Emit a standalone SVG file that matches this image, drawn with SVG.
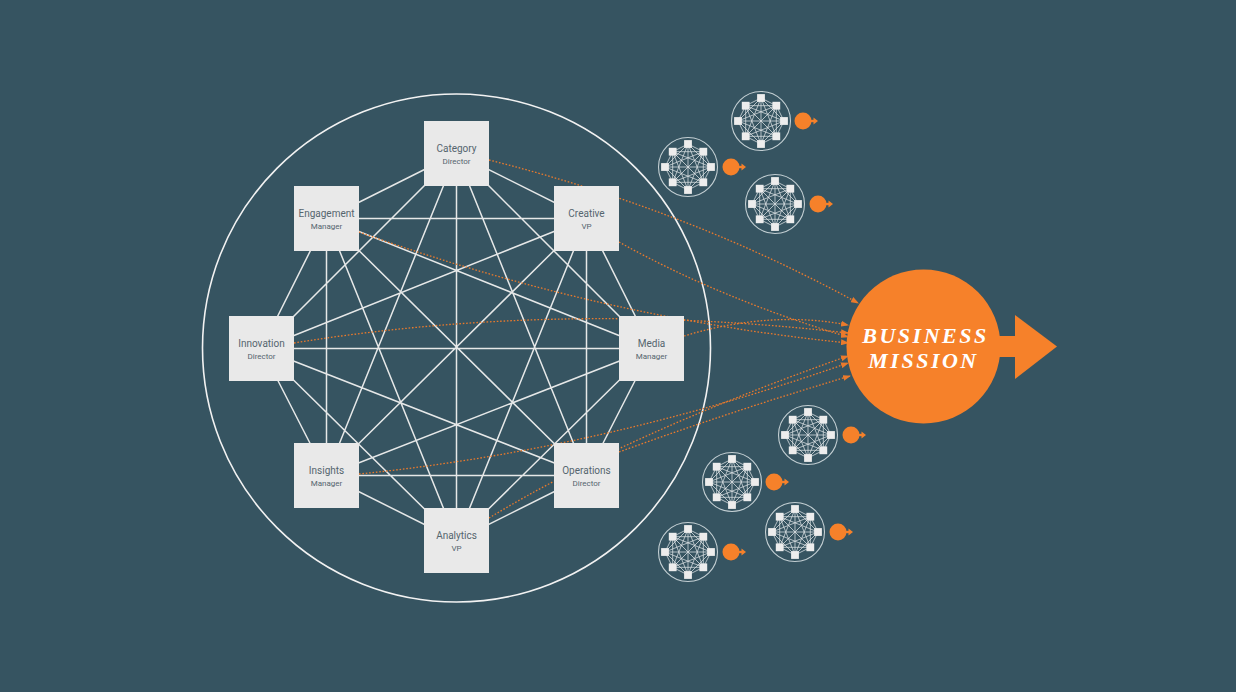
<svg xmlns="http://www.w3.org/2000/svg" xmlns:xlink="http://www.w3.org/1999/xlink" width="1236" height="692" viewBox="0 0 1236 692">
<style>
.bg{fill:#365461}
.ring{fill:none;stroke:#f2f2f2;stroke-width:1.6}
.edge{stroke:#e6e8e8;stroke-width:1.5;fill:none}
.box{fill:#e9e9e9}
.t1{font-family:Roboto,"Liberation Sans",sans-serif;font-size:10px;fill:#55656e;text-anchor:middle}
.t2{font-family:Roboto,"Liberation Sans",sans-serif;font-size:8px;fill:#55656e;text-anchor:middle}
.dot{fill:none;stroke:#ea7a2c;stroke-width:1.3;stroke-dasharray:1.6 1.8}
.org{fill:#f6812a}
.mt{font-family:"Liberation Serif","DejaVu Serif",serif;font-weight:bold;font-style:italic;font-size:22px;fill:#ffffff;text-anchor:middle;letter-spacing:2.5px}
.nring{fill:none;stroke:#c3cfd3;stroke-width:1.1}
.nline{fill:none;stroke:#dde3e5;stroke-width:0.75}
.nsq{fill:#ededed}
</style>
<defs>
<marker id="ah" markerWidth="8" markerHeight="6" refX="7" refY="3" orient="auto" markerUnits="userSpaceOnUse">
<path d="M0 0L8 3L0 6Z" fill="#ea7a2c"/>
</marker>
<g id="net">
<circle class="nring" r="29.5"/>
<path class="nline" d="M0-23L15.3-15.3M0-23L23 0M0-23L15.3 15.3M0-23L0 23M0-23L-15.3 15.3M0-23L-23 0M0-23L-15.3-15.3M15.3-15.3L23 0M15.3-15.3L15.3 15.3M15.3-15.3L0 23M15.3-15.3L-15.3 15.3M15.3-15.3L-23 0M15.3-15.3L-15.3-15.3M23 0L15.3 15.3M23 0L0 23M23 0L-15.3 15.3M23 0L-23 0M23 0L-15.3-15.3M15.3 15.3L0 23M15.3 15.3L-15.3 15.3M15.3 15.3L-23 0M15.3 15.3L-15.3-15.3M0 23L-15.3 15.3M0 23L-23 0M0 23L-15.3-15.3M-15.3 15.3L-23 0M-15.3 15.3L-15.3-15.3M-23 0L-15.3-15.3"/>
<rect class="nsq" x="-3.9" y="-26.9" width="7.8" height="7.8"/>
<rect class="nsq" x="11.4" y="-19.2" width="7.8" height="7.8"/>
<rect class="nsq" x="19.1" y="-3.9" width="7.8" height="7.8"/>
<rect class="nsq" x="11.4" y="11.4" width="7.8" height="7.8"/>
<rect class="nsq" x="-3.9" y="19.1" width="7.8" height="7.8"/>
<rect class="nsq" x="-19.2" y="11.4" width="7.8" height="7.8"/>
<rect class="nsq" x="-26.9" y="-3.9" width="7.8" height="7.8"/>
<rect class="nsq" x="-19.2" y="-19.2" width="7.8" height="7.8"/>
</g>
<g id="mini" class="org">
<circle r="8.5"/>
<rect x="6" y="-1.2" width="5" height="2.4"/>
<path d="M10.5-3.6L15 0L10.5 3.6Z"/>
</g>
</defs>
<rect class="bg" x="0" y="0" width="1236" height="692"/>
<circle class="ring" cx="456.5" cy="348" r="254"/>
<g id="connectors">
<g id="team-links">
<path class="edge" d="M456.5 153.5L586.5 218.5M456.5 153.5L651.5 348.5M456.5 153.5L586.5 475.5M456.5 153.5L456.5 540.5M456.5 153.5L326.5 475.5M456.5 153.5L261.5 348.5M456.5 153.5L326.5 218.5M586.5 218.5L651.5 348.5M586.5 218.5L586.5 475.5M586.5 218.5L456.5 540.5M586.5 218.5L326.5 475.5M586.5 218.5L261.5 348.5M586.5 218.5L326.5 218.5M651.5 348.5L586.5 475.5M651.5 348.5L456.5 540.5M651.5 348.5L326.5 475.5M651.5 348.5L261.5 348.5M651.5 348.5L326.5 218.5M586.5 475.5L456.5 540.5M586.5 475.5L326.5 475.5M586.5 475.5L261.5 348.5M586.5 475.5L326.5 218.5M456.5 540.5L326.5 475.5M456.5 540.5L261.5 348.5M456.5 540.5L326.5 218.5M326.5 475.5L261.5 348.5M326.5 475.5L326.5 218.5M261.5 348.5L326.5 218.5"/>
</g>
<g id="mission-links">
<path class="dot" marker-end="url(#ah)" d="M489 160Q689 210 858 303"/>
<path class="dot" marker-end="url(#ah)" d="M619 242Q721 299 848 337"/>
<path class="dot" marker-end="url(#ah)" d="M359 232Q600 318 848 343"/>
<path class="dot" marker-end="url(#ah)" d="M294 343Q560 300 848 333"/>
<path class="dot" marker-end="url(#ah)" d="M684 336Q770 310 848 325"/>
<path class="dot" marker-end="url(#ah)" d="M359 474Q600 450 848 363"/>
<path class="dot" marker-end="url(#ah)" d="M489 518Q629 433 848 356"/>
<path class="dot" marker-end="url(#ah)" d="M619 452Q735 410 850 376"/>
</g>
</g>
<g id="node-category"><rect class="box" x="424" y="121" width="65" height="65"/><text class="t1" x="456.5" y="152">Category</text><text class="t2" x="456.5" y="163.5">Director</text></g>
<g id="node-creative"><rect class="box" x="554" y="186" width="65" height="65"/><text class="t1" x="586.5" y="217">Creative</text><text class="t2" x="586.5" y="228.5">VP</text></g>
<g id="node-media"><rect class="box" x="619" y="316" width="65" height="65"/><text class="t1" x="651.5" y="347">Media</text><text class="t2" x="651.5" y="358.5">Manager</text></g>
<g id="node-operations"><rect class="box" x="554" y="443" width="65" height="65"/><text class="t1" x="586.5" y="474">Operations</text><text class="t2" x="586.5" y="485.5">Director</text></g>
<g id="node-analytics"><rect class="box" x="424" y="508" width="65" height="65"/><text class="t1" x="456.5" y="539">Analytics</text><text class="t2" x="456.5" y="550.5">VP</text></g>
<g id="node-insights"><rect class="box" x="294" y="443" width="65" height="65"/><text class="t1" x="326.5" y="474">Insights</text><text class="t2" x="326.5" y="485.5">Manager</text></g>
<g id="node-innovation"><rect class="box" x="229" y="316" width="65" height="65"/><text class="t1" x="261.5" y="347">Innovation</text><text class="t2" x="261.5" y="358.5">Director</text></g>
<g id="node-engagement"><rect class="box" x="294" y="186" width="65" height="65"/><text class="t1" x="326.5" y="217">Engagement</text><text class="t2" x="326.5" y="228.5">Manager</text></g>
<g id="business-mission">
<circle class="org" cx="923.5" cy="346.5" r="77"/>
<rect class="org" x="990" y="336" width="26" height="21"/>
<path class="org" d="M1015 315L1057 346.5L1015 379Z"/>
<text class="mt" x="925.5" y="343">BUSINESS</text>
<text class="mt" x="923.5" y="368">MISSION</text>
</g>
<g id="team-1"><use xlink:href="#net" x="761" y="121"/><use xlink:href="#mini" x="803" y="121"/></g>
<g id="team-2"><use xlink:href="#net" x="688" y="167"/><use xlink:href="#mini" x="731" y="167"/></g>
<g id="team-3"><use xlink:href="#net" x="775" y="204"/><use xlink:href="#mini" x="818" y="204"/></g>
<g id="team-4"><use xlink:href="#net" x="808" y="435"/><use xlink:href="#mini" x="851" y="435"/></g>
<g id="team-5"><use xlink:href="#net" x="732" y="482"/><use xlink:href="#mini" x="774" y="482"/></g>
<g id="team-6"><use xlink:href="#net" x="795" y="532"/><use xlink:href="#mini" x="838" y="532"/></g>
<g id="team-7"><use xlink:href="#net" x="688" y="552"/><use xlink:href="#mini" x="731" y="552"/></g>
</svg>
